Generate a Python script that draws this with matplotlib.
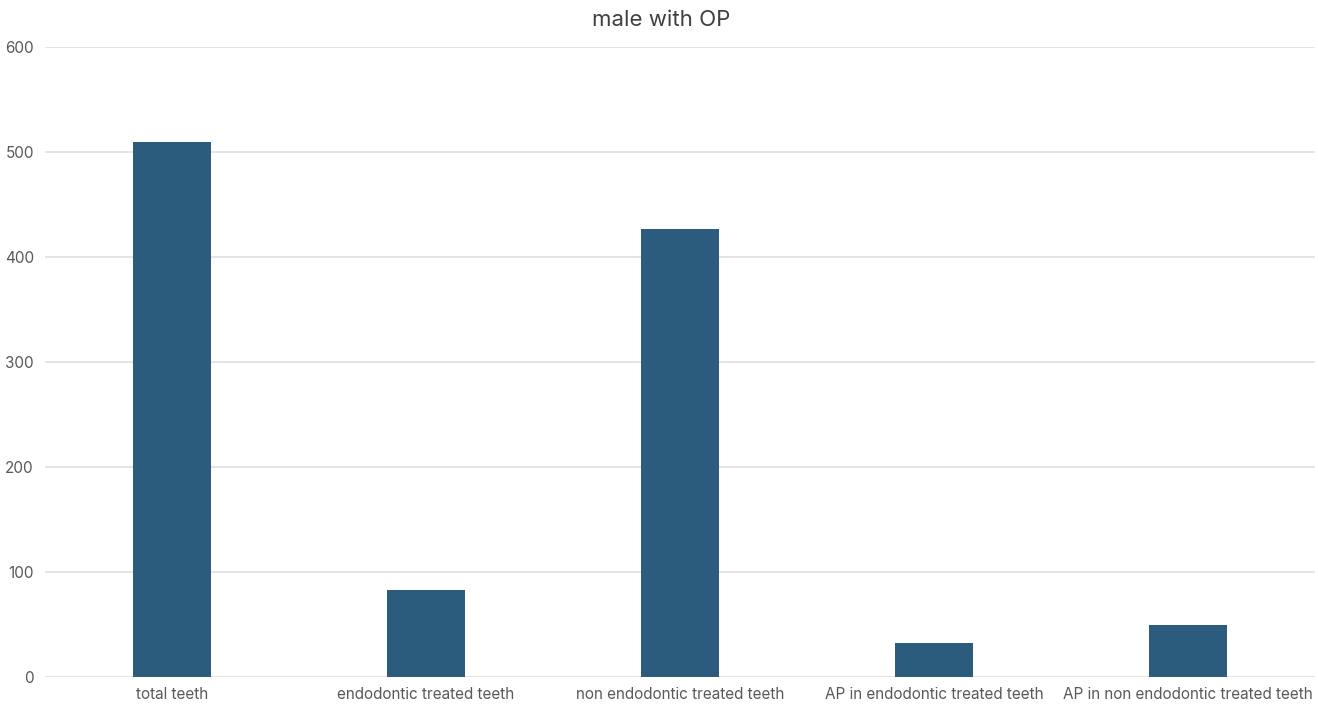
import matplotlib.pyplot as plt

plt.rcParams['font.family'] = ['Inter', 'DejaVu Sans']

# teeth counts, male patients with OP
categories = ['total teeth', 'endodontic treated teeth', 'non endodontic treated teeth',
              'AP in endodontic treated teeth', 'AP in non endodontic treated teeth']
counts = [510, 83, 427, 32, 50]
yticks = [0, 100, 200, 300, 400, 500, 600]

fig = plt.figure(figsize=(13.18, 7.05), dpi=100)
ax = fig.add_axes([45 / 1318, 28 / 705, 1270 / 1318, 630 / 705])

x = range(len(categories))
ax.bar(x, counts, width=0.31, color='#2B5C7E', zorder=3)

ax.set_xlim(-0.5, len(categories) - 0.5)
ax.set_ylim(0, 600)
ax.set_yticks(yticks)
ax.set_xticks(list(x))
ax.set_xticklabels(categories)
ax.grid(axis='y', color='#DDDDDD', linewidth=1.1, zorder=0)
for s in ax.spines.values():
    s.set_visible(False)
ax.tick_params(length=0, labelsize=11, labelcolor='#595959')
ax.tick_params(axis='y', pad=8)
ax.tick_params(axis='x', pad=7)

# title centred on the whole figure
fig.text(0.502, 0.972, 'male with OP', fontsize=16, color='#404040', ha='center', va='center')

fig.savefig('out.png', dpi=100)
